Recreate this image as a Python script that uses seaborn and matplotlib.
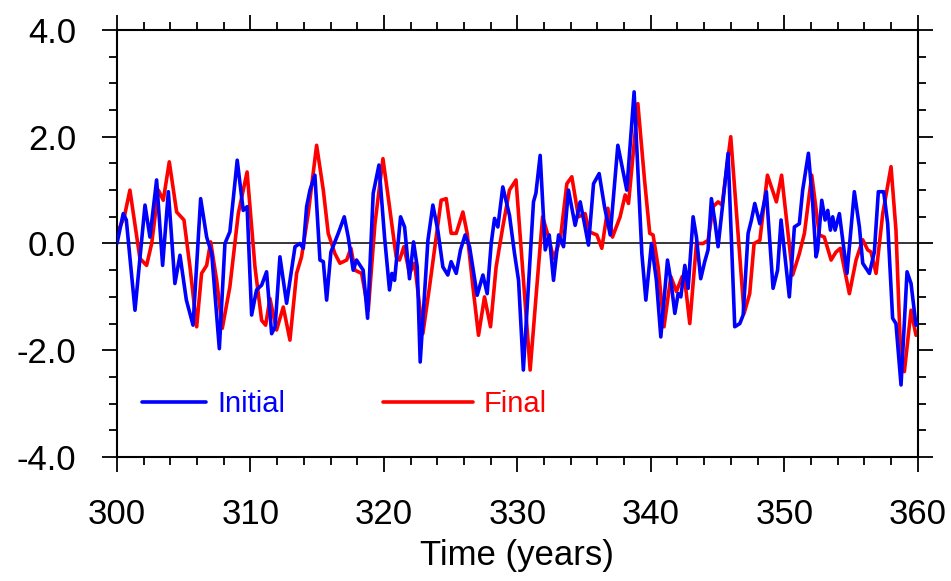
import matplotlib
matplotlib.use("Agg")
import matplotlib.pyplot as plt
from matplotlib.ticker import MultipleLocator, FormatStrFormatter
import seaborn as sns

# Values (extrema and turning points)
t_initial = [300.0, 300.47, 300.7, 301.35, 302.1, 302.47, 302.97, 303.42, 303.85, 304.34,
             304.72, 305.2, 305.7, 306.27, 306.72, 307.1, 307.67, 308.09, 308.46, 309.01,
             309.46, 309.75, 310.09, 310.46, 310.84, 311.21, 311.59, 311.85, 312.21, 312.71,
             313.34, 313.71, 313.96, 314.21, 314.46, 314.83, 315.21, 315.46, 315.71, 316.03,
             316.58, 317.03, 317.33, 317.7, 317.95, 318.45, 318.78, 319.2, 319.63, 320.05,
             320.42, 320.6, 320.8, 321.25, 321.55, 321.92, 322.22, 322.5, 322.72, 323.3,
             323.67, 324.04, 324.42, 324.79, 325.04, 325.42, 325.74, 326.09, 326.42, 326.99,
             327.42, 327.74, 328.04, 328.29, 328.54, 328.91, 329.41, 329.79, 330.09, 330.45,
             331.21, 331.39, 331.71, 332.09, 332.39, 332.71, 333.09, 333.46, 333.83, 334.33,
             334.71, 335.03, 335.33, 335.71, 336.13, 336.53, 336.96, 337.53, 338.2, 338.75,
             339.33, 339.63, 340.05, 340.42, 340.75, 341.25, 341.5, 341.8, 342.05, 342.25,
             342.55, 342.8, 343.17, 343.42, 343.74, 344.04, 344.29, 344.54, 344.79, 345.04,
             345.42, 345.79, 346.29, 346.67, 346.92, 347.29, 347.54, 347.79, 348.17, 348.66,
             349.16, 349.5, 349.76, 350.38, 350.76, 351.13, 351.38, 351.81, 352.13, 352.38,
             352.5, 352.81, 353.06, 353.26, 353.46, 353.63, 353.81, 354.13, 354.7, 355.25,
             355.63, 355.88, 356.38, 356.75, 357.05, 357.45, 357.75, 358.12, 358.37, 358.75,
             359.2, 359.5, 359.87, 360.0]
initial = [0.0, 0.56, 0.44, -1.25, 0.72, 0.12, 1.19, -0.41, 0.97, -0.75,
           -0.22, -1.06, -1.53, 0.84, 0.12, -0.19, -1.97, 0.0, 0.22, 1.56,
           0.62, 0.69, -1.34, -0.87, -0.78, -0.53, -1.69, -1.56, -0.25, -1.12,
           -0.06, 0.0, -0.09, 0.69, 1.0, 1.28, -0.31, -0.34, -1.06, -0.16,
           0.19, 0.5, 0.12, -0.5, -0.31, -0.5, -1.4, 0.94, 1.47, 0.12,
           -0.87, -0.56, -0.69, 0.5, 0.31, -0.66, 0.03, -0.44, -2.22, 0.06,
           0.72, 0.25, -0.44, -0.59, -0.34, -0.56, -0.12, 0.16, -0.06, -0.97,
           -0.59, -0.94, 0.0, 0.47, 0.31, 1.06, 0.53, -0.19, -0.69, -2.37,
           0.78, 0.94, 1.65, -0.12, 0.16, -0.69, 0.16, -0.06, 1.0, 0.34,
           0.78, 0.37, -0.03, 1.12, 1.31, 0.69, 0.16, 1.84, 1.0, 2.84,
           -0.19, -1.06, 0.0, -0.69, -1.75, -0.31, -0.69, -1.31, -0.94, -1.0,
           -0.41, -0.84, 0.5, 0.12, -0.66, -0.34, -0.12, 0.84, 0.44, -0.06,
           0.81, 1.69, -1.56, -1.5, -1.34, 0.19, 0.44, 0.75, 0.37, 0.97,
           -0.84, -0.5, 0.44, -1.0, 0.31, 0.37, 1.0, 1.69, 0.75, -0.25,
           -0.12, 0.81, 0.44, 0.62, 0.25, 0.5, 0.25, 0.56, -0.56, 0.97,
           0.31, -0.37, -0.56, -0.16, 0.97, 0.97, 0.37, -1.4, -1.5, -2.65,
           -0.53, -0.75, -1.53, -1.5]

t_final = [300.0, 300.2, 300.55, 300.97, 301.72, 302.22, 302.6, 303.1, 303.47, 303.92,
           304.47, 305.02, 305.47, 305.97, 306.34, 306.72, 307.02, 307.47, 307.89, 308.46,
           309.09, 309.75, 310.34, 310.84, 311.14, 311.46, 311.96, 312.46, 312.96, 313.46,
           313.83, 314.33, 314.96, 315.46, 315.83, 316.33, 316.71, 317.21, 317.53, 317.83,
           318.33, 318.83, 319.33, 319.93, 320.42, 320.92, 321.17, 321.5, 321.92, 322.3,
           322.92, 323.42, 323.92, 324.29, 324.67, 325.04, 325.42, 325.92, 326.24, 326.67,
           327.09, 327.54, 327.99, 328.41, 328.91, 329.41, 329.9, 330.46, 330.96, 331.46,
           331.89, 332.34, 332.71, 333.21, 333.71, 334.08, 334.58, 335.08, 335.38, 335.96,
           336.33, 336.78, 337.13, 337.7, 338.08, 338.33, 339.03, 339.53, 339.92, 340.17,
           340.55, 340.99, 341.5, 341.92, 342.35, 342.55, 342.92, 343.42, 343.92, 344.29,
           344.67, 345.04, 345.34, 345.99, 346.54, 346.99, 347.41, 347.74, 348.17, 348.74,
           349.41, 349.8, 350.63, 351.13, 351.51, 352.06, 352.63, 353.0, 353.51, 353.88,
           354.2, 354.88, 355.38, 355.88, 356.25, 356.5, 356.88, 357.38, 358.0, 358.37,
           358.7, 359.0, 359.5, 359.87, 360.0]
final = [0.16, 0.3, 0.5, 1.0, -0.28, -0.41, 0.0, 1.0, 0.81, 1.53,
         0.59, 0.44, -0.44, -1.56, -0.56, -0.41, 0.03, -0.69, -1.59, -0.81,
         0.56, 1.34, -0.44, -1.44, -1.53, -1.03, -1.62, -1.19, -1.81, -0.56,
         -0.25, 0.56, 1.84, 1.0, 0.19, -0.19, -0.37, -0.31, -0.09, -0.5,
         -0.56, -1.25, 0.37, 1.59, 0.69, -0.25, -0.31, -0.06, -0.56, -0.37,
         -1.69, -0.81, 0.12, 0.81, 0.84, 0.19, 0.19, 0.59, 0.19, -0.81,
         -1.72, -1.0, -1.56, -0.44, 0.31, 1.0, 1.19, -0.69, -2.37, -0.81,
         0.5, 0.12, -0.28, 0.06, 1.12, 1.25, 0.5, 0.56, 0.22, 0.16,
         -0.09, 0.66, 0.12, 0.5, 0.91, 0.75, 2.62, 1.19, 0.19, 0.16,
         -0.44, -1.56, -0.62, -0.9, -0.62, -0.69, -1.5, 0.0, 0.0, 0.06,
         0.69, 0.78, 0.72, 2.0, 0.19, -1.31, -0.94, 0.0, 0.06, 1.28,
         0.78, 1.28, -0.59, -0.19, 0.19, 1.28, 0.16, 0.12, -0.31, -0.16,
         -0.09, -0.94, -0.31, 0.07, -0.12, -0.16, -0.56, 0.56, 1.44, 0.25,
         -1.93, -2.4, -1.25, -1.72, -1.7]

sns.set_theme(style="ticks")
plt.rcParams['font.family'] = ['Liberation Sans', 'DejaVu Sans']
plt.rcParams['axes.unicode_minus'] = False
plt.rcParams['text.color'] = 'black'
plt.rcParams['axes.labelcolor'] = 'black'

fig = plt.figure(figsize=(9.51, 5.81), dpi=100)
ax = fig.add_axes([0.123, 0.2134, 0.842, 0.7350])

ax.axhline(0, color='black', lw=1.1, zorder=1)
sns.lineplot(x=t_initial, y=initial, sort=False, estimator=None, color='#0000FF',
             lw=2.6, ax=ax, label='Initial', legend=False, zorder=3,
             solid_joinstyle='round', solid_capstyle='round')
sns.lineplot(x=t_final, y=final, sort=False, estimator=None, color='#FF0000',
             lw=2.6, ax=ax, label='Final', legend=False, zorder=2,
             solid_joinstyle='round', solid_capstyle='round')

ax.set_xlim(300, 360)
ax.set_ylim(-4, 4)
ax.xaxis.set_major_locator(MultipleLocator(10))
ax.xaxis.set_minor_locator(MultipleLocator(2))
ax.yaxis.set_major_locator(MultipleLocator(2))
ax.yaxis.set_minor_locator(MultipleLocator(0.5))
ax.yaxis.set_major_formatter(FormatStrFormatter('%.1f'))

for s in ax.spines.values():
    s.set_visible(True)
    s.set_linewidth(1.5)
    s.set_color('black')
ax.tick_params(which='both', direction='out', top=True, right=True, colors='black', width=1.3)
ax.tick_params(which='major', length=10.5, labelsize=25, pad=19)
ax.tick_params(which='minor', length=5.5)

ax.set_xlabel('Time (years)', fontsize=25, labelpad=6, color='black')
ax.set_ylabel('')

# two separate legend entries, as in the reference
lines = ax.get_lines()
leg1 = ax.legend([lines[1]], ['Initial'], loc='center left', bbox_to_anchor=(0.031, 0.124),
                 frameon=False, fontsize=21, handlelength=2.2, handletextpad=0.4,
                 borderpad=0, borderaxespad=0, labelcolor='linecolor')
ax.add_artist(leg1)
ax.legend([lines[2]], ['Final'], loc='center left', bbox_to_anchor=(0.332, 0.124),
          frameon=False, fontsize=21, handlelength=3.1, handletextpad=0.35,
          borderpad=0, borderaxespad=0, labelcolor='linecolor')

fig.savefig('out.png', dpi=100)
